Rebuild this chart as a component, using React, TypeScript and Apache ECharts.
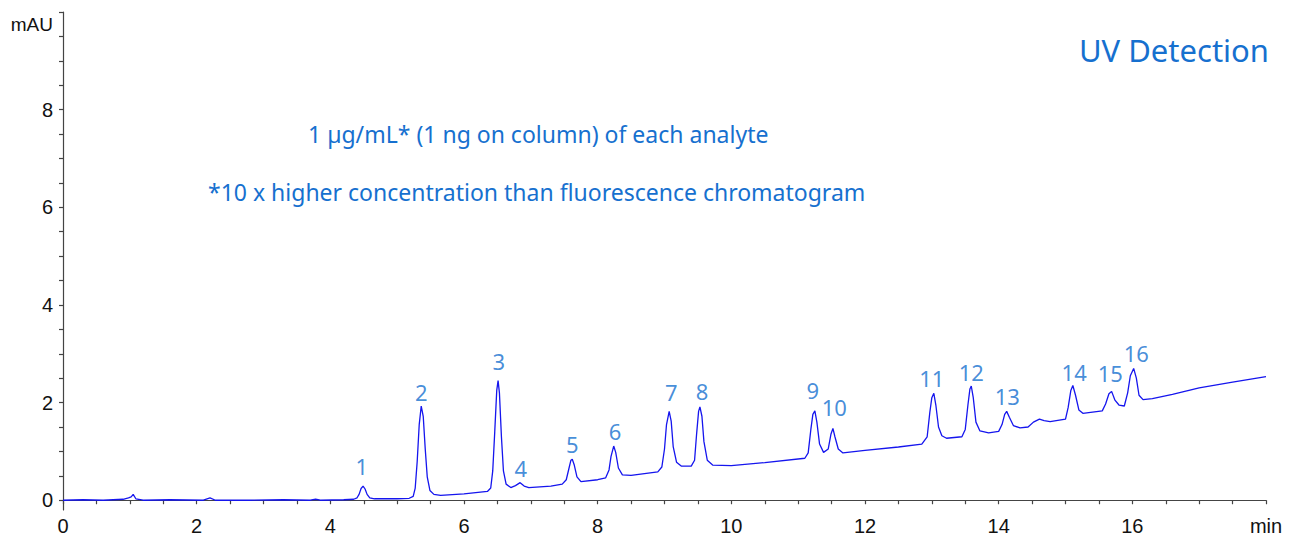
import React, { useEffect, useRef } from "react";
import * as echarts from "echarts";

// Chromatogram trace [time (min), absorbance (mAU)]
const trace: [number, number][] = [
  [0, 0.0], [0.3, 0.01], [0.6, 0.0], [0.9, 0.02], [0.98, 0.05], [1.02, 0.07], [1.05, 0.12], [1.09, 0.03], [1.2, 0.0],
  [1.6, 0.01], [2.1, 0.0], [2.2, 0.05], [2.28, 0.0], [2.8, 0.0], [3.3, 0.01], [3.7, 0.0], [3.78, 0.02], [3.85, 0.0],
  [4.2, 0.01], [4.35, 0.02], [4.40, 0.05], [4.43, 0.12], [4.46, 0.24], [4.49, 0.29], [4.52, 0.23], [4.55, 0.12], [4.59, 0.05], [4.66, 0.03],
  [5.0, 0.03], [5.18, 0.04], [5.24, 0.08], [5.27, 0.25], [5.30, 0.8], [5.33, 1.55], [5.36, 1.93], [5.39, 1.72], [5.42, 1.05],
  [5.45, 0.48], [5.49, 0.2], [5.55, 0.12], [5.65, 0.1], [6.0, 0.13], [6.35, 0.18],
  [6.40, 0.25], [6.43, 0.6], [6.46, 1.4], [6.49, 2.25], [6.51, 2.45], [6.53, 2.2], [6.56, 1.3], [6.59, 0.6], [6.63, 0.33], [6.70, 0.26],
  [6.77, 0.3], [6.84, 0.36], [6.90, 0.29], [6.97, 0.26], [7.3, 0.29], [7.47, 0.33],
  [7.53, 0.42], [7.57, 0.65], [7.60, 0.82], [7.62, 0.84], [7.65, 0.72], [7.69, 0.48], [7.75, 0.38], [8.0, 0.42], [8.12, 0.46],
  [8.17, 0.62], [8.20, 0.9], [8.24, 1.11], [8.27, 0.98], [8.31, 0.66], [8.37, 0.52], [8.5, 0.51], [8.9, 0.58], [8.96, 0.68],
  [9.0, 1.05], [9.03, 1.55], [9.07, 1.82], [9.10, 1.62], [9.13, 1.1], [9.18, 0.78], [9.25, 0.7], [9.4, 0.7], [9.45, 0.82],
  [9.48, 1.35], [9.51, 1.82], [9.53, 1.91], [9.56, 1.72], [9.59, 1.2], [9.64, 0.82], [9.72, 0.72], [10.0, 0.71], [10.5, 0.77],
  [11.1, 0.86], [11.15, 0.97], [11.19, 1.45], [11.22, 1.76], [11.25, 1.83], [11.28, 1.6], [11.32, 1.15], [11.38, 0.98],
  [11.45, 1.05], [11.49, 1.35], [11.52, 1.47], [11.55, 1.3], [11.60, 1.05], [11.67, 0.97], [12.0, 1.02], [12.5, 1.09], [12.85, 1.15],
  [12.93, 1.3], [12.97, 1.8], [13.0, 2.1], [13.03, 2.19], [13.06, 1.95], [13.10, 1.5], [13.15, 1.32], [13.22, 1.27], [13.45, 1.3],
  [13.50, 1.45], [13.54, 1.95], [13.57, 2.28], [13.59, 2.34], [13.62, 2.1], [13.66, 1.6], [13.72, 1.42], [13.85, 1.38], [14.0, 1.41],
  [14.05, 1.55], [14.09, 1.76], [14.12, 1.82], [14.16, 1.7], [14.22, 1.53], [14.32, 1.48], [14.44, 1.5],
  [14.52, 1.6], [14.61, 1.66], [14.68, 1.63], [14.77, 1.61], [15.0, 1.66],
  [15.04, 1.9], [15.08, 2.25], [15.11, 2.35], [15.15, 2.15], [15.20, 1.85], [15.26, 1.78], [15.55, 1.83],
  [15.60, 1.97], [15.65, 2.18], [15.69, 2.23], [15.74, 2.05], [15.80, 1.95], [15.88, 1.93],
  [15.93, 2.2], [15.97, 2.55], [16.02, 2.7], [16.06, 2.5], [16.10, 2.15], [16.16, 2.06], [16.3, 2.08],
  [16.6, 2.17], [17.0, 2.3], [17.5, 2.42], [18.0, 2.53],
];

// Peak numbers and where their labels sit (data units)
const peakNames = ["1", "2", "3", "4", "5", "6", "7", "8", "9", "10", "11", "12", "13", "14", "15", "16"];
const peakLabelX = [4.47, 5.36, 6.52, 6.85, 7.62, 8.26, 9.1, 9.56, 11.22, 11.54, 13.0, 13.59, 14.13, 15.13, 15.67, 16.06];
const peakLabelY = [0.7, 2.22, 2.85, 0.66, 1.15, 1.42, 2.22, 2.24, 2.26, 1.91, 2.5, 2.63, 2.13, 2.63, 2.61, 3.02];

// Axis ticks
const yLabelValues = [0, 2, 4, 6, 8];
const yTickValues = [0, 0.5, 1, 1.5, 2, 2.5, 3, 3.5, 4, 4.5, 5, 5.5, 6, 6.5, 7, 7.5, 8, 8.5, 9, 9.5, 10];

const TEXT_BLUE = "#1670cf";
const LINE_BLUE = "#1515ee";
const AXIS_FONT = "'Liberation Sans', Arial, sans-serif";

export default function App() {
  const ref = useRef<HTMLDivElement>(null);
  useEffect(() => {
    document.body.style.margin = "0";
    if (!ref.current) return;
    const chart = echarts.init(ref.current, null, { renderer: "svg" });
    const annoFont = "'Noto Sans', sans-serif";
    chart.setOption({
      animation: false,
      backgroundColor: "#ffffff",
      grid: { left: 63, right: 28, top: 12, bottom: 30 },
      xAxis: {
        type: "value",
        min: 0,
        max: 18,
        interval: 2,
        axisLine: { show: true, lineStyle: { color: "#444", width: 1.2 } },
        axisTick: { show: true, length: 4, lineStyle: { color: "#444", width: 1.2 } },
        minorTick: { show: true, splitNumber: 4, length: 4, lineStyle: { color: "#444", width: 1.2 } },
        splitLine: { show: false },
        axisLabel: {
          color: "#111",
          fontSize: 20,
          fontFamily: AXIS_FONT,
          margin: 6,
          formatter: (v: number) => (v === 18 ? "min" : String(v)),
        },
      },
      yAxis: {
        type: "value",
        min: -0.2,
        max: 10,
        name: "mAU",
        nameLocation: "end",
        nameGap: -12,
        nameTextStyle: {
          color: "#111",
          fontSize: 19,
          fontFamily: AXIS_FONT,
          align: "right",
          verticalAlign: "middle",
          padding: [0, 10, 0, 0],
        },
        axisLine: { show: true, lineStyle: { color: "#444", width: 1.2 } },
        axisTick: { show: true, length: 4, customValues: yTickValues, lineStyle: { color: "#444", width: 1.2 } },
        splitLine: { show: false },
        axisLabel: {
          color: "#111",
          fontSize: 20,
          fontFamily: AXIS_FONT,
          margin: 10,
          customValues: yLabelValues,
        },
      },
      graphic: [
        {
          type: "text",
          right: 25,
          top: 34,
          style: { text: "UV Detection", fill: TEXT_BLUE, font: `31px ${annoFont}` },
        },
        {
          type: "text",
          left: 308,
          top: 122,
          style: { text: "1 µg/mL* (1 ng on column) of each analyte", fill: TEXT_BLUE, font: `23px ${annoFont}` },
        },
        {
          type: "text",
          left: 208,
          top: 180,
          style: {
            text: "*10 x higher concentration than fluorescence chromatogram",
            fill: TEXT_BLUE,
            font: `23px ${annoFont}`,
          },
        },
      ],
      series: [
        {
          type: "line",
          data: trace,
          showSymbol: false,
          symbol: "none",
          lineStyle: { color: LINE_BLUE, width: 1.3 },
          z: 3,
        },
        {
          type: "scatter",
          symbolSize: 0,
          data: peakNames.map((n, i) => ({ name: n, value: [peakLabelX[i], peakLabelY[i]] })),
          label: {
            show: true,
            position: "inside",
            formatter: (p: any) => p.name,
            color: TEXT_BLUE,
            fontSize: 22,
            fontFamily: annoFont,
          },
          silent: true,
          z: 4,
        },
      ],
    });
    return () => chart.dispose();
  }, []);
  return <div ref={ref} style={{ width: 1294, height: 540 }} />;
}
